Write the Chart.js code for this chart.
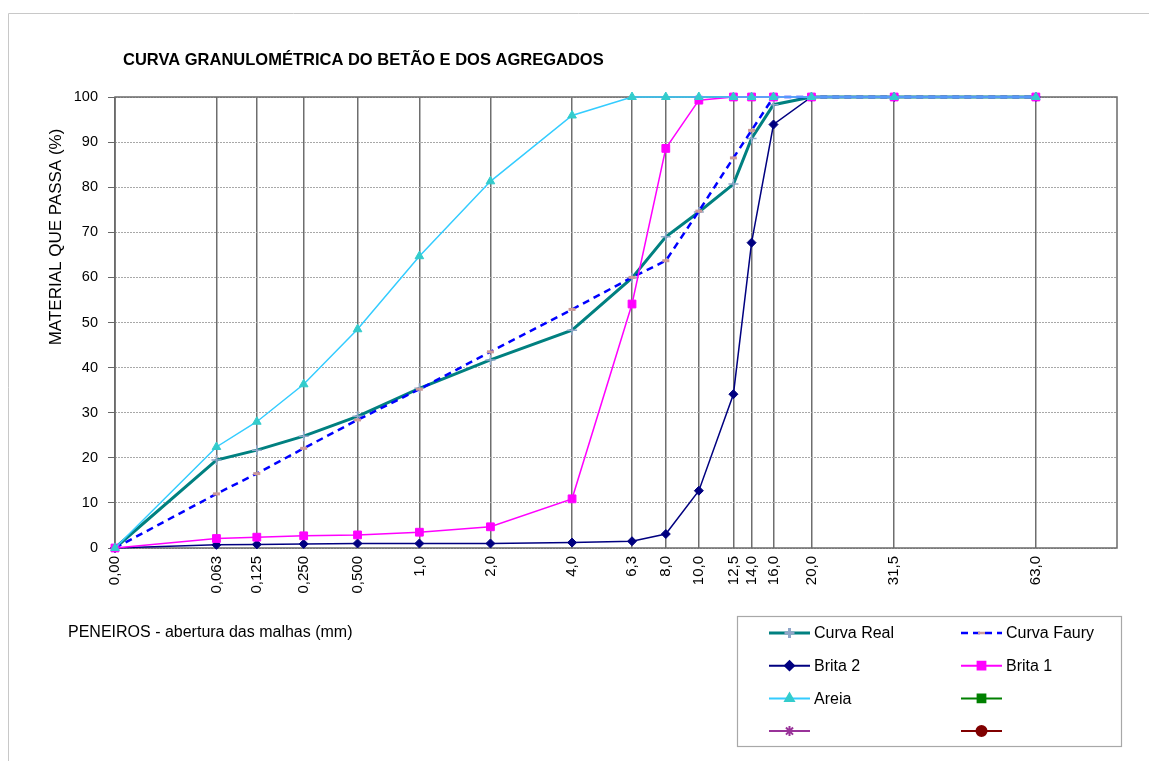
<!DOCTYPE html>
<html>
<head>
<meta charset="utf-8">
<title>Curva granulométrica</title>
<script src="https://cdn.jsdelivr.net/npm/chart.js@4.4.1/dist/chart.umd.min.js"></script>
<style>
  html, body { margin: 0; padding: 0; background: #fff; }
  #wrap { position: relative; width: 1149px; height: 761px; }
</style>
</head>
<body>
<div id="wrap"><canvas id="granChart" width="1149" height="761"></canvas></div>
<script>
// Sieve openings (mm). "0,00" sits at 0.0063 like in the spreadsheet
const sieves = [0.0063, 0.063, 0.125, 0.25, 0.5, 1, 2, 4, 6.3, 8, 10, 12.5, 14, 16, 20, 31.5, 63];
const sieveLabels = ["0,00", "0,063", "0,125", "0,250", "0,500", "1,0", "2,0", "4,0", "6,3", "8,0",
  "10,0", "12,5", "14,0", "16,0", "20,0", "31,5", "63,0"];

// % passing
const curvaReal  = [0, 19.5, 21.7, 24.8, 29.2, 35.4, 41.7, 48.3, 59.9, 69.0, 74.5, 80.7, 90.8, 98.3, 100, 100, 100];
const curvaFaury = [0, 12.0, 16.5, 22.1, 28.4, 35.2, 43.5, 52.9, 60.0, 63.7, 74.7, 86.5, 92.6, 100, 100, 100, 100];
const brita2     = [0, 0.7, 0.8, 0.9, 1.0, 1.0, 1.0, 1.2, 1.5, 3.1, 12.7, 34.1, 67.7, 93.9, 100, 100, 100];
const brita1     = [0, 2.1, 2.4, 2.7, 2.9, 3.5, 4.7, 10.9, 54.1, 88.6, 99.3, 100, 100, 100, 100, 100, 100];
const areia      = [0, 22.4, 28.0, 36.3, 48.5, 64.7, 81.3, 95.9, 100, 100, 100, 100, 100, 100, 100, 100, 100];

const yTicks = [0, 10, 20, 30, 40, 50, 60, 70, 80, 90, 100];

const FONT = "Arial, 'Liberation Sans', sans-serif";

// Faury scale: abscissa proportional to d^(1/5)
const fifth = d => Math.pow(d, 0.2);
const toPoints = arr => sieves.map((d, i) => ({ x: fifth(d), y: arr[i] }));

function series(label, values, color, width, style, extra) {
  return Object.assign({
    label: label,
    data: values ? toPoints(values) : [],
    borderColor: color,
    backgroundColor: color,
    borderWidth: width,
    pointStyle: style,
    pointRadius: 5,
    pointBorderWidth: 1,
    tension: 0,
    clip: false
  }, extra || {});
}

const datasets = [
  series("Curva Real", curvaReal, "#008080", 3, "cross",
    { pointBorderColor: "#8FA6C8", pointBackgroundColor: "#8FA6C8", pointBorderWidth: 1.5, order: 5 }),
  series("Curva Faury", curvaFaury, "#0000FF", 2.5, "line",
    { borderDash: [7, 5], pointBorderColor: "#CC9999", pointBackgroundColor: "#CC9999",
      pointRadius: 3.5, pointBorderWidth: 3, order: 4 }),
  series("Brita 2", brita2, "#000080", 1.5, "rectRot", { pointRadius: 4.5, order: 3 }),
  series("Brita 1", brita1, "#FF00FF", 1.5, "rect", { pointRadius: 5.5, order: 2 }),
  series("Areia", areia, "#33CCFF", 1.5, "triangle",
    { pointBorderColor: "#33CCCC", pointBackgroundColor: "#33CCCC", pointRadius: 5, order: 1 }),
  series("", null, "#008000", 1.5, "rect", { pointRadius: 5.5 }),
  series("", null, "#993399", 1.5, "star", { pointRadius: 5 }),
  series("", null, "#800000", 1.5, "circle", { pointRadius: 5 })
];

// frame, titles and the boxed legend
const decor = {
  id: "decor",
  beforeDatasetsDraw(chart) {
    const { ctx, chartArea: a } = chart;
    ctx.save();
    ctx.strokeStyle = "#6a6a6a";
    ctx.lineWidth = 1.5;
    ctx.strokeRect(a.left, a.top, a.right - a.left, a.bottom - a.top);
    ctx.restore();
  },
  afterDraw(chart) {
    const ctx = chart.ctx;
    ctx.save();
    // outer page frame
    ctx.strokeStyle = "#c8c8c8";
    ctx.lineWidth = 1;
    ctx.beginPath();
    ctx.moveTo(8.5, 761); ctx.lineTo(8.5, 13.5); ctx.lineTo(1149, 13.5);
    ctx.stroke();

    ctx.fillStyle = "#000";
    ctx.textBaseline = "middle";
    ctx.font = "bold 16.5px " + FONT;
    ctx.fillText("CURVA GRANULOMÉTRICA DO BETÃO E DOS AGREGADOS", 123, 60);

    ctx.font = "16px " + FONT;
    ctx.fillText("PENEIROS - abertura das malhas (mm)", 68, 633);

    ctx.save();
    ctx.translate(56, 237);
    ctx.rotate(-Math.PI / 2);
    ctx.textAlign = "center";
    ctx.font = "17px " + FONT;
    ctx.fillText("MATERIAL QUE PASSA (%)", 0, 0);
    ctx.restore();

    // legend box
    ctx.strokeStyle = "#a8a8a8";
    ctx.lineWidth = 1.2;
    ctx.strokeRect(737.5, 616.5, 384, 130);
    chart.data.datasets.forEach((ds, i) => {
      const col = i % 2, row = Math.floor(i / 2);
      const x0 = col ? 961 : 769;
      const y = 633 + row * 32.7;
      ctx.save();
      ctx.strokeStyle = ds.borderColor;
      ctx.lineWidth = Math.max(ds.borderWidth, 2);
      ctx.setLineDash(ds.borderDash || []);
      ctx.beginPath();
      ctx.moveTo(x0, y); ctx.lineTo(x0 + 41, y);
      ctx.stroke();
      ctx.setLineDash([]);
      ctx.strokeStyle = ds.pointBorderColor || ds.borderColor;
      ctx.fillStyle = ds.pointBackgroundColor || ds.backgroundColor;
      Chart.helpers.drawPoint(ctx, {
        pointStyle: ds.pointStyle, rotation: 0,
        radius: ds.pointRadius, borderWidth: ds.pointBorderWidth
      }, x0 + 20.5, y);
      ctx.restore();
      if (ds.label) {
        ctx.fillStyle = "#000";
        ctx.font = "16px " + FONT;
        ctx.fillText(ds.label, x0 + 45, y + 1);
      }
    });
    ctx.restore();
  }
};

new Chart(document.getElementById("granChart"), {
  type: "line",
  data: { datasets: datasets },
  plugins: [decor],
  options: {
    responsive: false,
    animation: false,
    layout: { padding: { top: 97, right: 32, left: 0, bottom: 0 } },
    plugins: {
      legend: { display: false },
      tooltip: { enabled: false },
      title: { display: false }
    },
    scales: {
      x: {
        type: "linear",
        min: fifth(sieves[0]),
        max: 2.46,
        afterBuildTicks: s => { s.ticks = sieves.map(d => ({ value: fifth(d) })); },
        afterFit: s => { s.height = 213; },
        ticks: {
          autoSkip: false,
          minRotation: 90,
          maxRotation: 90,
          padding: 8,
          color: "#000",
          font: { family: FONT, size: 15 },
          callback: (v, i) => sieveLabels[i]
        },
        grid: { color: "#6e6e6e", lineWidth: 1.5, drawTicks: false },
        border: { display: false }
      },
      y: {
        min: 0,
        max: 100,
        afterBuildTicks: s => { s.ticks = yTicks.map(v => ({ value: v })); },
        afterFit: s => { s.width = 115; },
        ticks: {
          padding: 10,
          color: "#000",
          font: { family: FONT, size: 14.5 }
        },
        grid: { color: "#a8a8a8", lineWidth: 1, tickLength: 7, tickColor: "#666", tickBorderDash: [] },
        border: { display: false, dash: [2, 1] }
      }
    }
  }
});
</script>
</body>
</html>
